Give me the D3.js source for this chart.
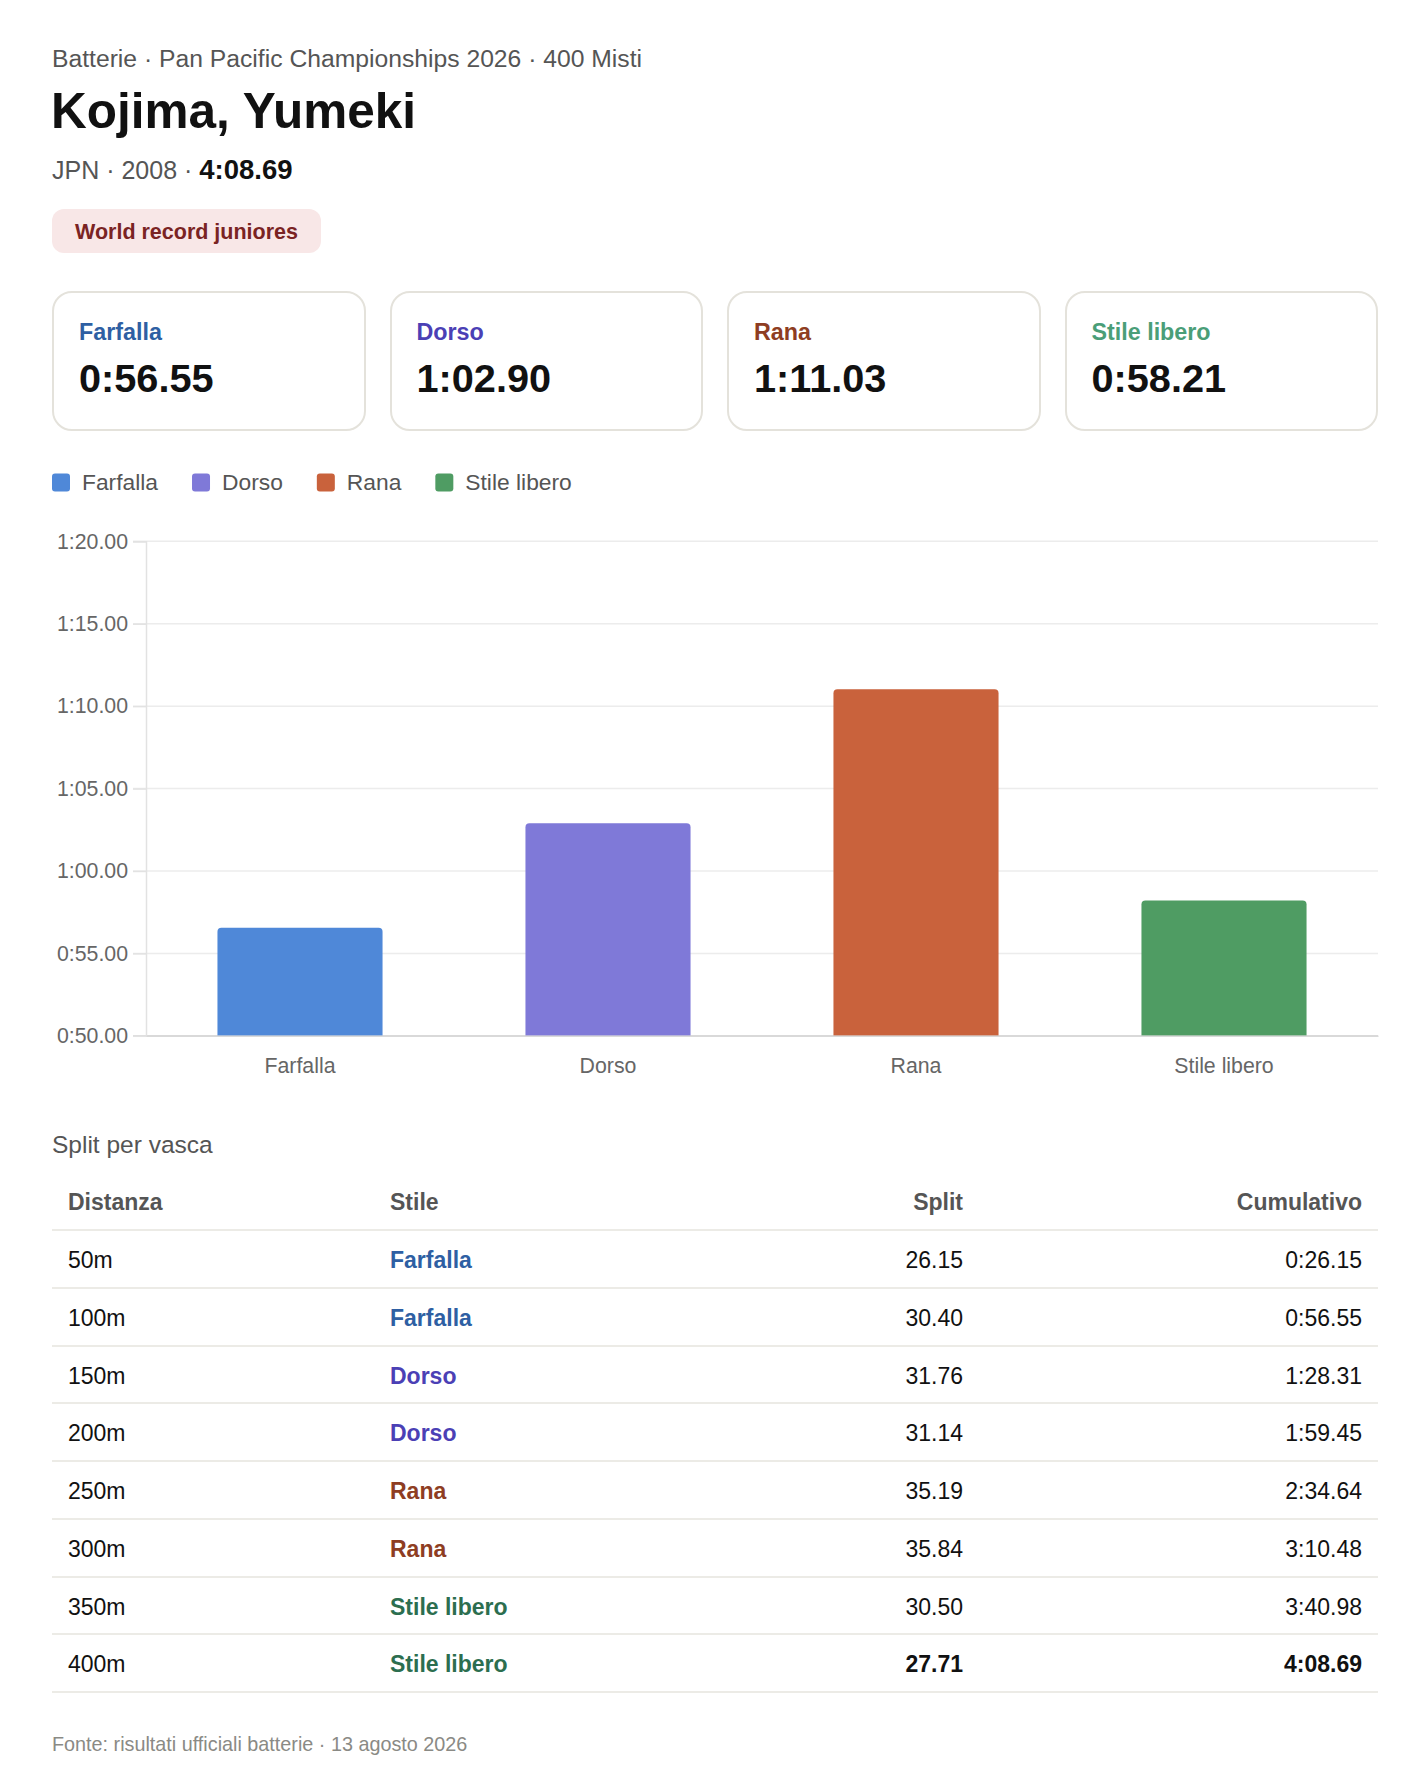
<!DOCTYPE html>
<html lang="it">
<head>
<meta charset="utf-8">
<title>Kojima, Yumeki - 400 Misti</title>
<script src="https://cdn.jsdelivr.net/npm/d3@7"></script>
<style>
  html, body { margin: 0; padding: 0; background: #fff; }
  body { width: 1406px; height: 1780px; position: relative; font-family: "Liberation Sans", Arial, sans-serif; color: #111; }
  .abs { position: absolute; line-height: 1; white-space: nowrap; }
  .card { position: absolute; box-sizing: border-box; border: 2px solid #e4e2db; border-radius: 20px; background: #fff; }
  .card .lbl { position: absolute; left: 25px; top: 27.5px; font-size: 23.3px; font-weight: bold; line-height: 1; }
  .card .val { position: absolute; left: 25px; top: 66px; font-size: 39.7px; font-weight: bold; line-height: 1; color: #111; }
  .row { position: absolute; left: 52px; width: 1326px; height: 57.75px; box-sizing: border-box; border-bottom: 2px solid #ecebe6; font-size: 23px; line-height: 55.75px; }
  .row div { position: absolute; top: 2px; white-space: nowrap; }
  svg text { font-family: "Liberation Sans", Arial, sans-serif; }
</style>
</head>
<body>
<div id="page"></div>
<script>
// ---- data ----
const strokes = ["Farfalla", "Dorso", "Rana", "Stile libero"];
const strokeTimes = [56.55, 62.90, 71.03, 58.21];          // seconds per 100m
const yTicks = [50, 55, 60, 65, 70, 75, 80];                  // seconds
const distances = ["50m", "100m", "150m", "200m", "250m", "300m", "350m", "400m"];
const lapStrokes = ["Farfalla", "Farfalla", "Dorso", "Dorso", "Rana", "Rana", "Stile libero", "Stile libero"];
const lapSplits = [26.15, 30.40, 31.76, 31.14, 35.19, 35.84, 30.50, 27.71];
const lapCumulative = [26.15, 56.55, 88.31, 119.45, 154.64, 190.48, 220.98, 248.69];
const tableHeaders = ["Distanza", "Stile", "Split", "Cumulativo"];

const barColors   = { "Farfalla": "#4f88d8", "Dorso": "#7f79d8", "Rana": "#c9623c", "Stile libero": "#4f9c63" };
const cardColors  = { "Farfalla": "#2e5fa3", "Dorso": "#4b40b5", "Rana": "#8e3d22", "Stile libero": "#4a9e78" };
const tableColors = { "Farfalla": "#2e5fa3", "Dorso": "#4b40b5", "Rana": "#8e3d22", "Stile libero": "#2c6e4f" };

function fmt(s) {
    let m = Math.floor(s / 60);
    let rest = (s - m * 60).toFixed(2);
    if (rest.length < 5) rest = "0" + rest;
    return m + ":" + rest;
}

const page = d3.select("#page");

// ---- header ----
page.append("div").attr("class", "abs")
    .style("left", "52px").style("top", "47.2px")
    .style("font-size", "24.7px").style("color", "#555")
    .text("Batterie · Pan Pacific Championships 2026 · 400 Misti");

page.append("div").attr("class", "abs")
    .style("left", "51px").style("top", "86.2px")
    .style("font-size", "49.5px").style("font-weight", "bold").style("color", "#111")
    .text("Kojima, Yumeki");

let meta = page.append("div").attr("class", "abs")
    .style("left", "52px").style("top", "156px")
    .style("font-size", "25px").style("color", "#555");
meta.append("span").text("JPN · 2008 · ");
meta.append("span").style("font-weight", "bold").style("color", "#111").style("font-size", "27.5px")
    .text(fmt(lapCumulative[lapCumulative.length - 1]));

page.append("div")
    .style("position", "absolute").style("left", "52px").style("top", "209px")
    .style("height", "44px").style("line-height", "47px").style("padding", "0 23px")
    .style("border-radius", "12px").style("background", "#f8e7e7").style("color", "#7a2323")
    .style("font-size", "21.5px").style("font-weight", "bold").style("white-space", "nowrap")
    .text("World record juniores");

// ---- stroke cards ----
const cardW = (1326 - 3 * 24) / 4;
const cards = page.selectAll("div.card").data(strokes).join("div")
    .attr("class", "card")
    .style("left", (d, i) => (52 + i * (cardW + 24)) + "px")
    .style("top", "291px")
    .style("width", cardW + "px")
    .style("height", "140px");
cards.append("div").attr("class", "lbl").style("color", d => cardColors[d]).text(d => d);
cards.append("div").attr("class", "val").text((d, i) => fmt(strokeTimes[i]));

// ---- bar chart ----
const svg = page.append("svg")
    .style("position", "absolute").style("left", "0px").style("top", "450px")
    .attr("width", 1406).attr("height", 650);

const plot = { left: 146, right: 1378, top: 91.3, bottom: 585.8 };

// legend
const legend = svg.append("g").attr("transform", "translate(52,0)");
let lx = 0;
strokes.forEach(s => {
    let g = legend.append("g").attr("transform", `translate(${lx},0)`);
    g.append("rect").attr("x", 0).attr("y", 23.5).attr("width", 18).attr("height", 18)
        .attr("rx", 3).attr("fill", barColors[s]);
    let t = g.append("text").attr("x", 30).attr("y", 40).attr("font-size", 22.8).attr("fill", "#555").text(s);
    lx += 30 + t.node().getComputedTextLength() + 34;
});

const x = d3.scaleBand().domain(strokes).range([plot.left, plot.right])
    .paddingInner(0.464).paddingOuter(0.232);
const y = d3.scaleLinear().domain([50, 80]).range([plot.bottom, plot.top]);

// grid
svg.append("g").selectAll("line").data(yTicks).join("line")
    .attr("x1", plot.left - 13).attr("x2", plot.right)
    .attr("y1", d => y(d)).attr("y2", d => y(d))
    .attr("stroke", d => d === 50 ? "#d9d9d9" : "#ececec").attr("stroke-width", 1.5);

// y axis
const yAxis = svg.append("g").attr("transform", `translate(${plot.left},0)`)
    .call(d3.axisLeft(y).tickValues(yTicks).tickFormat(fmt).tickSize(13).tickPadding(5));
yAxis.select(".domain").attr("stroke", "#e2e2e2").attr("stroke-width", 1.5);
yAxis.selectAll(".tick line").attr("stroke", "#e2e2e2").attr("stroke-width", 1.5);
yAxis.selectAll(".tick text").attr("font-size", 21.3).attr("fill", "#666");
yAxis.attr("font-family", null);

// bars with rounded top corners
const r = 4;
svg.append("g").selectAll("path").data(strokes).join("path")
    .attr("fill", d => barColors[d])
    .attr("d", (d, i) => {
        let x0 = x(d), x1 = x(d) + x.bandwidth();
        let yt = y(strokeTimes[i]), yb = y(50);
        return `M${x0},${yb}V${yt + r}Q${x0},${yt} ${x0 + r},${yt}H${x1 - r}Q${x1},${yt} ${x1},${yt + r}V${yb}Z`;
    });

// baseline + x axis labels
const xAxis = svg.append("g").attr("transform", `translate(0,${plot.bottom})`)
    .call(d3.axisBottom(x).tickSize(0).tickPadding(22));
xAxis.select(".domain").attr("stroke", "#d9d9d9").attr("stroke-width", 1.5);
xAxis.selectAll(".tick text").attr("font-size", 21.3).attr("fill", "#666");
xAxis.attr("font-family", null);

// ---- split table ----
page.append("div").attr("class", "abs")
    .style("left", "52px").style("top", (1154 - 0.8465 * 24.5) + "px")
    .style("font-size", "24.5px").style("color", "#555")
    .text("Split per vasca");

const tableTop = 1173.25, rowH = 57.75;
const colPos = [
    { left: 16 },
    { left: 338 },
    { right: 1326 - 911 },
    { right: 16 }
];

function placeCell(sel, i) {
    if (colPos[i].left !== undefined) sel.style("left", colPos[i].left + "px");
    else sel.style("right", colPos[i].right + "px");
    return sel;
}

const head = page.append("div").attr("class", "row").style("top", tableTop + "px")
    .style("font-weight", "bold").style("color", "#555");
tableHeaders.forEach((h, i) => placeCell(head.append("div"), i).text(h));

const rows = page.selectAll("div.body-row").data(distances).join("div")
    .attr("class", "row body-row")
    .style("top", (d, i) => (tableTop + (i + 1) * rowH) + "px");
rows.each(function (d, i) {
    let row = d3.select(this);
    let last = i === distances.length - 1;
    placeCell(row.append("div"), 0).style("color", "#111").text(d);
    placeCell(row.append("div"), 1).style("font-weight", "bold").style("color", tableColors[lapStrokes[i]]).text(lapStrokes[i]);
    placeCell(row.append("div"), 2).style("color", "#111").style("font-weight", last ? "bold" : null).text(lapSplits[i].toFixed(2));
    placeCell(row.append("div"), 3).style("color", "#111").style("font-weight", last ? "bold" : null).text(fmt(lapCumulative[i]));
});

// ---- footer ----
page.append("div").attr("class", "abs")
    .style("left", "52px").style("top", (1752 - 0.8465 * 19.8) + "px")
    .style("font-size", "19.8px").style("color", "#8a8a85")
    .text("Fonte: risultati ufficiali batterie · 13 agosto 2026");
</script>
</body>
</html>
